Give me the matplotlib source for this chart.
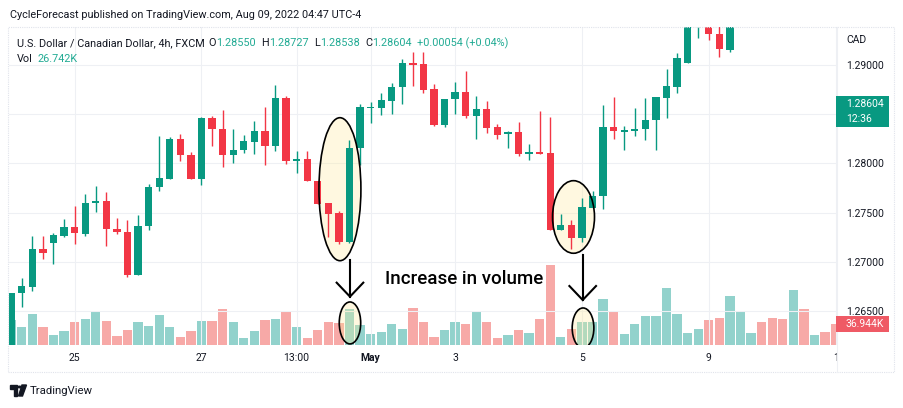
import matplotlib.pyplot as plt
from matplotlib.patches import Ellipse, Rectangle, Polygon, Circle
import numpy as np

plt.rcParams['font.family'] = ['Roboto', 'DejaVu Sans']

W, H = 904, 408
UP, DOWN = '#089981', '#F23645'
UP_VOL, DOWN_VOL = '#92D2CC', '#F7A9A7'
TXT = '#131722'

# USDCAD 4h candles that fall inside the visible price range
opens = [1.26000, 1.26686, 1.26747, 1.27129, 1.27196, 1.27264, 1.27353, 1.27288, 1.27599, 1.27620,
         1.27338, 1.27305, 1.26872, 1.27363, 1.27759, 1.27846, 1.28246, 1.28090, 1.27846, 1.28462,
         1.28353, 1.28090, 1.28134, 1.28221, 1.28327, 1.28175, 1.28665, 1.28026, 1.28043, 1.27820,
         1.27599, 1.27498, 1.27203, 1.28161, 1.28564, 1.28567, 1.28638, 1.28774, 1.29020, 1.29013,
         1.28756, 1.28388, 1.28652, 1.28726, 1.28485, 1.28553, 1.28371, 1.28297, 1.28320, 1.28100,
         1.28120, 1.28107, 1.27328, 1.27376, 1.27244, 1.27552, 1.27670, 1.28371, 1.28320, 1.28333,
         1.28350, 1.28439, 1.28668, 1.28777, 1.29023, 1.29400, 1.29420, 1.29315, 1.29152]
highs = [1.26689, 1.26841, 1.27261, 1.27261, 1.27298, 1.27434, 1.27566, 1.27694, 1.27769, 1.27714,
         1.27447, 1.27430, 1.27474, 1.27795, 1.28276, 1.28269, 1.28300, 1.28114, 1.28470, 1.28479,
         1.28546, 1.28350, 1.28289, 1.28432, 1.28574, 1.28794, 1.28688, 1.28127, 1.28127, 1.27820,
         1.27599, 1.27518, 1.28242, 1.28601, 1.28621, 1.28719, 1.28820, 1.29058, 1.29132, 1.29132,
         1.28810, 1.28652, 1.28827, 1.28936, 1.28685, 1.28635, 1.28398, 1.28327, 1.28421, 1.28201,
         1.28533, 1.28472, 1.27491, 1.27424, 1.27650, 1.27718, 1.28591, 1.28675, 1.28381, 1.28564,
         1.28665, 1.28675, 1.28956, 1.29122, 1.29538, 1.29520, 1.29450, 1.29420, 1.29500]
lows = [1.25950, 1.26544, 1.26703, 1.27031, 1.26977, 1.27254, 1.27186, 1.27267, 1.27505, 1.27160,
        1.27282, 1.26848, 1.26865, 1.27322, 1.27718, 1.27846, 1.28029, 1.27840, 1.27785, 1.28175,
        1.27965, 1.28005, 1.28107, 1.28100, 1.27982, 1.28127, 1.27998, 1.27907, 1.27820, 1.27592,
        1.27254, 1.27186, 1.27195, 1.27982, 1.28414, 1.28489, 1.28500, 1.28607, 1.28784, 1.28719,
        1.28385, 1.28371, 1.28500, 1.28462, 1.28252, 1.28310, 1.28252, 1.28161, 1.28079, 1.28039,
        1.28095, 1.27328, 1.27328, 1.27135, 1.27203, 1.27552, 1.27541, 1.28246, 1.28140, 1.28276,
        1.28236, 1.28134, 1.28465, 1.28719, 1.29023, 1.29271, 1.29254, 1.29078, 1.29135]
closes = [1.26689, 1.26757, 1.27132, 1.27095, 1.27271, 1.27353, 1.27292, 1.27599, 1.27620, 1.27335,
          1.27305, 1.26865, 1.27363, 1.27759, 1.27850, 1.28249, 1.28090, 1.27846, 1.28462, 1.28350,
          1.28090, 1.28134, 1.28226, 1.28327, 1.28175, 1.28665, 1.28026, 1.28043, 1.27820, 1.27592,
          1.27491, 1.27203, 1.28161, 1.28571, 1.28574, 1.28642, 1.28774, 1.29020, 1.29003, 1.28749,
          1.28391, 1.28652, 1.28726, 1.28482, 1.28553, 1.28364, 1.28293, 1.28320, 1.28097, 1.28120,
          1.28100, 1.27328, 1.27376, 1.27244, 1.27559, 1.27670, 1.28371, 1.28327, 1.28337, 1.28353,
          1.28439, 1.28675, 1.28784, 1.29074, 1.29477, 1.29480, 1.29312, 1.29159, 1.29450]

# volume (thousands) for every bar, incl. the ones whose candles are above the view
volume = [44.6, 33.0, 55.7, 32.0, 18.2, 25.0, 40.2, 46.8, 58.7, 42.8,
          16.1, 27.3, 40.5, 33.4, 53.6, 31.6, 13.7, 25.5, 42.8, 42.8,
          64.3, 41.1, 12.0, 25.0, 44.6, 46.4, 59.8, 33.0, 12.1, 26.4,
          41.4, 38.4, 64.6, 35.3, 20.5, 23.2, 37.8, 28.9, 66.9, 40.7,
          13.4, 26.8, 41.1, 37.5, 60.7, 41.1, 13.0, 18.4, 26.8, 21.4,
          47.3, 142.8, 14.6, 28.6, 41.1, 41.1, 82.1, 59.4, 19.6, 37.5,
          51.8, 51.8, 101.7, 55.3, 22.0, 28.6, 44.6, 48.2, 87.5, 58.9,
          21.4, 41.1, 48.2, 45.9, 98.2, 64.3, 17.9, 23.2, 36.944]
tail_up = [True, True, False, False, False, True, False, True, False, False]

date_pos = [6, 18, 27, 34, 42, 54, 66, 78]
date_lbl = ['25', '27', '13:00', 'May', '3', '5', '9', '1']
price_ticks = [1.265, 1.270, 1.275, 1.280, 1.285, 1.290]

legend_vals = ['1.28550', '1.28727', '1.28538', '1.28604']
last_price, countdown = '1.28604', '12:36'


def px(x, y):
    return x / W, 1 - y / H


fig = plt.figure(figsize=(W / 100, H / 100), dpi=100)
ax = fig.add_axes([9 / W, 1 - 345 / H, (836.7 - 9) / W, 318 / H])
axv = ax.twinx()
ax.set_zorder(axv.get_zorder() + 1)
ax.patch.set_visible(False)

n = len(opens)
idx = np.arange(n)
o, h, l, c = map(np.array, (opens, highs, lows, closes))
up = c >= o
cols = np.where(up, UP, DOWN)

# volume pane
vol_up = list(up) + tail_up
axv.bar(np.arange(len(volume)), volume, width=0.88,
        color=[UP_VOL if u else DOWN_VOL for u in vol_up])
axv.set_ylim(0, 567.6)
axv.axis('off')

# candles
ax.vlines(idx, l, h, colors=cols, lw=1.0, zorder=3)
body_lo = np.minimum(o, c)
body_h = np.maximum(np.abs(c - o), 0.0001)
ax.bar(idx, body_h, bottom=body_lo, width=0.69, color=cols, zorder=4)

ax.set_xlim(-0.21, 78.1)
ax.set_ylim(1.26157, 1.29386)
ax.set_xticks(date_pos)
ax.set_xticklabels(date_lbl)
ax.get_xticklabels()[3].set_fontweight('bold')
ax.yaxis.tick_right()
ax.set_yticks(price_ticks)
# 1.28500 sits under the last-price box, so it is not shown
ax.set_yticklabels(['' if v == 1.285 else f'{v:.5f}' for v in price_ticks])
ax.tick_params(axis='x', length=0, pad=6, labelsize=7.5, labelcolor=TXT)
ax.tick_params(axis='y', length=0, pad=6.8, labelsize=7.5, labelcolor=TXT)
for t in ax.get_yticklabels():
    t.set_horizontalalignment('left')
ax.grid(color='#EEF0F4', lw=0.8)
ax.set_axisbelow(True)
for s in ax.spines.values():
    s.set_visible(False)

# annotations
for cx, cy, w, hh in [(31.1, 1.27739, 3.97, 0.01452), (32.05, 1.26381, 2.03, 0.00426),
                      (53.2, 1.27457, 3.97, 0.00737), (54.1, 1.26330, 2.05, 0.00406)]:
    ax.add_patch(Ellipse((cx, cy), w, hh, facecolor='#FFEB99', alpha=0.3, lw=0, zorder=1))
    ax.add_patch(Ellipse((cx, cy), w, hh, facecolor='none', edgecolor='black', lw=1.2, zorder=6))

for ax_x, y0, y1 in [(32.05, 1.27020, 1.26648), (54.07, 1.27071, 1.26614)]:
    ax.plot([ax_x, ax_x], [y0, y1], color='black', lw=1.5, zorder=6)
    ax.plot([ax_x - 1.26, ax_x, ax_x + 1.26], [y1 + 0.00142, y1, y1 + 0.00142],
            color='black', lw=1.5, zorder=6, solid_joinstyle='miter')

ax.text(35.4, 1.26824, 'Increase in volume', fontsize=13.5, color='black',
        fontweight='medium', ha='left', va='center', zorder=7)

# header
HF = 7.8
fig.text(*px(9.6, 14.5), 'CycleForecast published on TradingView.com, Aug 09, 2022 04:47 UTC-4',
         fontsize=HF, color=TXT, va='center')

renderer = fig.canvas.get_renderer()


def chain(x, y, parts):
    # write coloured pieces one after another on a line
    for s, col, gap in parts:
        t = fig.text(*px(x, y), s, fontsize=HF, color=col, va='center')
        x = t.get_window_extent(renderer).x1 + gap


parts = [('U.S. Dollar / Canadian Dollar, 4h, FXCM', TXT, 4)]
for lab, val in zip('OHLC', legend_vals):
    parts += [(lab, TXT, 0.5), (val, '#22AB94', 5)]
parts += [('+0.00054 (+0.04%)', '#22AB94', 0)]
chain(16.8, 43, parts)
chain(16.8, 59.5, [('Vol', TXT, 5), ('26.742K', '#22AB94', 0)])

# right scale extras
fig.text(*px(846, 40), 'CAD', fontsize=7.5, color=TXT, va='center')
fig.patches.append(Rectangle(px(836.5, 127), 52.5 / W, 31 / H, transform=fig.transFigure,
                             facecolor=UP, edgecolor='none', zorder=3))
fig.text(*px(846, 104), last_price, fontsize=7.5, color='white', va='center', zorder=4)
fig.text(*px(846, 119), countdown, fontsize=7.5, color='white', va='center', zorder=4)
fig.patches.append(Rectangle(px(836.5, 332), 52.5 / W, 16 / H, transform=fig.transFigure,
                             facecolor='#EF5A65', edgecolor='none', zorder=3))
fig.text(*px(846, 324), f'{volume[-1]:.3f}K', fontsize=7.5, color='white', va='center', zorder=4)

# frame
fig.patches.append(Rectangle(px(8, 372), 886 / W, 345 / H, transform=fig.transFigure,
                             facecolor='none', edgecolor='#E0E3EB', lw=0.8, ls=(0, (1, 1))))
fig.lines.append(plt.Line2D([836.7 / W] * 2, [px(0, 27)[1], px(0, 372)[1]],
                            transform=fig.transFigure, color='#EEF0F4', lw=0.8))

# TradingView logo
fig.patches.append(Polygon([px(10, 385), px(17.5, 385), px(17.5, 396), px(14, 396), px(14, 388.5), px(10, 388.5)],
                           closed=True, transform=fig.transFigure, color=TXT))
fig.patches.append(Circle(px(19.6, 387), 1.7 / W, transform=fig.transFigure, color=TXT))
fig.patches.append(Polygon([px(22, 385), px(26.5, 385), px(22.5, 396), px(18.5, 396)],
                           closed=True, transform=fig.transFigure, color=TXT))
fig.text(*px(30, 390.5), 'TradingView', fontsize=8.2, color=TXT, va='center')

fig.savefig('out.png', dpi=100)
